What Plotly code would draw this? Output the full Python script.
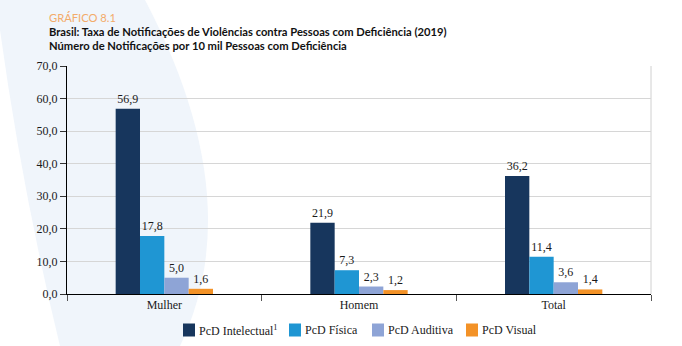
import plotly.graph_objects as go

# Taxa de notificações por 10 mil pessoas com deficiência (2019)
categorias = ["Mulher", "Homem", "Total"]
series_nomes = ["PcD Intelectual<sup>1</sup>", "PcD Física", "PcD Auditiva", "PcD Visual"]
intelectual = [56.9, 21.9, 36.2]
fisica = [17.8, 7.3, 11.4]
auditiva = [5.0, 2.3, 3.6]
visual = [1.6, 1.2, 1.4]
cores = ["#17365d", "#1f96d3", "#8ea4d6", "#f39227"]
y_ticks = [0, 10, 20, 30, 40, 50, 60, 70]

W, H = 682, 346
L, R, T, B = 67, 31, 66, 52

serif = "Liberation Serif, Times New Roman, serif"
sans = "Lato, Open Sans, sans-serif"

fig = go.Figure()
for nome, valores, cor in zip(series_nomes, [intelectual, fisica, auditiva, visual], cores):
    fig.add_trace(go.Bar(
        name=nome, x=categorias, y=valores, marker=dict(color=cor, line=dict(width=0)),
        texttemplate="%{y:.1f}", textposition="outside", cliponaxis=False,
        textfont=dict(family=serif, size=12, color="#1a1a1a"),
        showlegend=False,
    ))

# pixel -> paper helpers
pw, ph = W - L - R, H - T - B
def px(x):
    return (x - L) / pw
def py(y):
    return (H - B - y) / ph

# pale blue swoosh in the background
path = "M {} {}".format(px(0), py(30))
path += " Q {} {} {} {}".format(px(22), py(190), px(60), py(346))
path += " L {} {}".format(px(180), py(346))
path += " Q {} {} {} {}".format(px(250), py(200), px(145), py(0))
path += " L {} {} Z".format(px(0), py(0))

shapes = [
    dict(type="path", path=path, xref="paper", yref="paper", layer="below",
         fillcolor="#f0f5fb", line=dict(width=0)),
    dict(type="line", xref="paper", yref="paper", x0=1, x1=1, y0=0, y1=1,
         line=dict(color="#d0d0d0", width=1), layer="below"),
]

annotations = [
    dict(text="GRÁFICO 8.1", x=px(47), y=py(17), font=dict(family=sans, size=11.2, color="#f3ab6a")),
    dict(text="<b>Brasil: Taxa de Notificações de Violências contra Pessoas com Deficiência (2019)</b>",
         x=px(47), y=py(31), font=dict(family=sans, size=11.2, color="#111111")),
    dict(text="<b>Número de Notificações por 10 mil Pessoas com Deficiência</b>",
         x=px(47), y=py(45), font=dict(family=sans, size=11.2, color="#111111")),
]

# legend: colour squares followed by the series names
legenda_x = [183, 289, 372, 466]
for nome, cor, lx in zip(series_nomes, cores, legenda_x):
    shapes.append(dict(type="rect", xref="paper", yref="paper",
                       x0=px(lx), x1=px(lx + 12), y0=py(336.5), y1=py(323.5),
                       fillcolor=cor, line=dict(width=0)))
    annotations.append(dict(text=nome, x=px(lx + 14), y=py(330),
                            font=dict(family=serif, size=12, color="#1a1a1a")))

for a in annotations:
    a.update(xref="paper", yref="paper", showarrow=False, xanchor="left", yanchor="middle")

fig.update_layout(
    width=W, height=H,
    margin=dict(l=L, r=R, t=T, b=B, autoexpand=False),
    paper_bgcolor="white", plot_bgcolor="rgba(0,0,0,0)",
    separators=",.",
    barmode="group", bargap=0.5, bargroupgap=0,
    shapes=shapes,
    annotations=annotations,
    showlegend=False,
    xaxis=dict(showline=True, linecolor="#000000", linewidth=1,
               ticks="outside", tickson="boundaries", ticklen=6, tickcolor="#555555",
               tickfont=dict(family=serif, size=12, color="#1a1a1a"),
               showgrid=False, zeroline=False),
    yaxis=dict(range=[0, 70], tickvals=y_ticks, tickformat=".1f",
               showline=True, linecolor="#000000", linewidth=1,
               ticks="outside", ticklen=6, tickcolor="#333333",
               tickfont=dict(family=serif, size=12, color="#1a1a1a"),
               showgrid=True, gridcolor="#d6d6d6", gridwidth=1, zeroline=False),
)

fig.write_html("out.html")
